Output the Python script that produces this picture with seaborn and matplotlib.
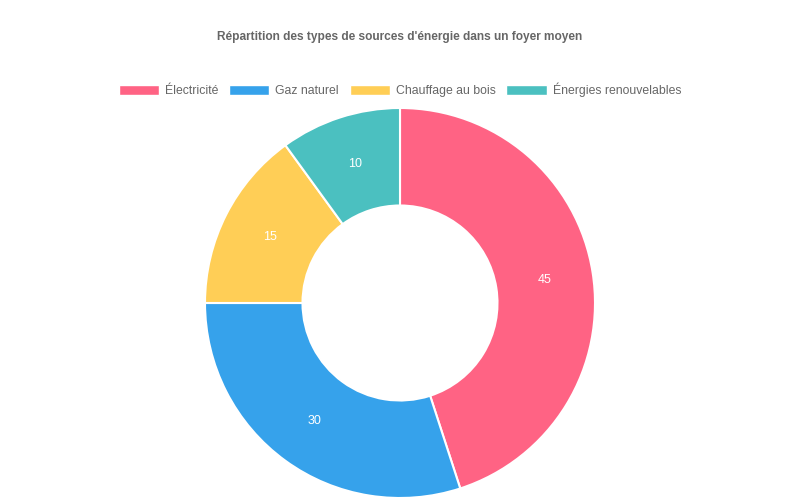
import matplotlib
matplotlib.use("Agg")
import matplotlib.pyplot as plt
import matplotlib.patches as mpatches
import numpy as np
import seaborn as sns

labels = ["Électricité", "Gaz naturel", "Chauffage au bois", "Énergies renouvelables"]
values = [45, 30, 15, 10]
colors = ["#FF6384", "#36A2EB", "#FFCE56", "#4BC0C0"]
title = "Répartition des types de sources d'énergie dans un foyer moyen"

sns.set_style("white")
plt.rcParams["font.family"] = ["Liberation Sans", "DejaVu Sans"]

fig = plt.figure(figsize=(8, 5), dpi=100)
W, H = 800, 500
cx, cy, r = 400, 303, 195
ax = fig.add_axes([(cx - r) / W, 1 - (cy + r) / H, 2 * r / W, 2 * r / H])

wedges, _ = ax.pie(values, colors=colors, startangle=90, counterclock=False,
                   wedgeprops=dict(width=0.5, edgecolor="white", linewidth=1.5))
for w, v in zip(wedges, values):
    mid = np.deg2rad((w.theta1 + w.theta2) / 2)
    ax.text(0.75 * np.cos(mid), 0.75 * np.sin(mid), str(v), ha="center", va="center",
            color="white", fontsize=9)
ax.set_xlim(-1, 1)
ax.set_ylim(-1, 1)
ax.set_aspect("equal")
ax.axis("off")

fig.text(0.5, 1 - 37 / H, title, ha="center", va="center", fontsize=8.6,
         fontweight="bold", color="#666666")

handles = [mpatches.Patch(facecolor=c, edgecolor="white", label=l) for c, l in zip(colors, labels)]
fig.legend(handles=handles, loc="center", bbox_to_anchor=(0.5, 1 - 90 / H), ncol=4,
           frameon=False, fontsize=8.8, labelcolor="#666666", handlelength=3.3,
           handleheight=0.85, handletextpad=0.5, columnspacing=0.85)

fig.savefig("out.png", dpi=100, facecolor="white")
